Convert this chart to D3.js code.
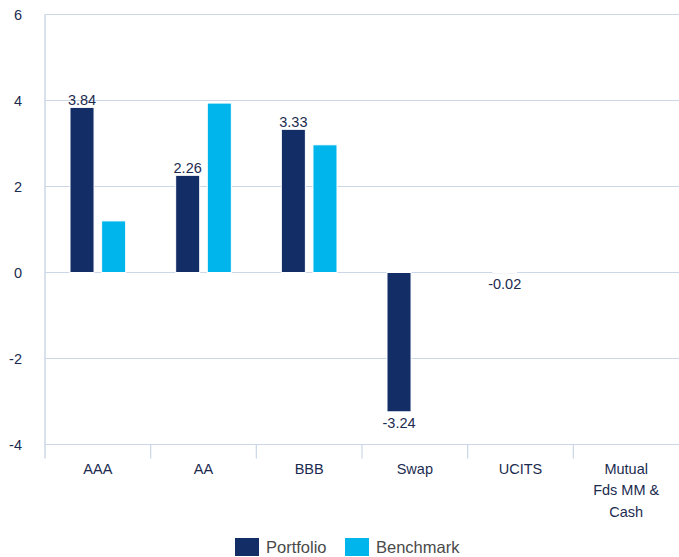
<!DOCTYPE html>
<html>
<head>
<meta charset="utf-8">
<script src="https://cdn.jsdelivr.net/npm/d3@7"></script>
<style>
  body { margin: 0; background: #fff; }
  text { font-family: "Liberation Sans", Arial, sans-serif; }
</style>
</head>
<body>
<div id="chart"></div>
<script>
const width = 679;
const height = 557;

// datos
const categorias = ["AAA", "AA", "BBB", "Swap", "UCITS", "Mutual\nFds MM &\nCash"];
const series = ["Portfolio", "Benchmark"];
const portfolio = [3.84, 2.26, 3.33, -3.24, -0.02, 0];
const benchmark = [1.2, 3.94, 2.97, 0, 0, 0];
const etiquetasPortfolio = ["3.84", "2.26", "3.33", "-3.24", "-0.02", null];
const ticksY = [-4, -2, 0, 2, 4, 6];

const colores = { Portfolio: "#132d67", Benchmark: "#00b5ec" };
const colorTexto = "#1b2b4f";
const colorGrid = "#cbd7e6";

const margin = { top: 14.5, right: 0, bottom: 112.5, left: 45 };
const innerW = width - margin.left - margin.right;
const innerH = height - margin.top - margin.bottom;

const svg = d3.select("#chart").append("svg")
  .attr("width", width)
  .attr("height", height);

const g = svg.append("g").attr("transform", `translate(${margin.left},${margin.top})`);

const y = d3.scaleLinear().domain([-4, 6]).range([innerH, 0]);
const x0 = d3.scaleBand().domain(categorias).range([0, innerW]);
const x1 = d3.scaleBand().domain(series).range([25, x0.bandwidth() - 25]).paddingInner(0.24);

// grid
g.selectAll(".grid").data(ticksY).join("line")
  .attr("x1", 0).attr("x2", innerW)
  .attr("y1", d => y(d)).attr("y2", d => y(d))
  .attr("stroke", colorGrid).attr("stroke-width", 1.2);

// eje izquierdo
g.append("line")
  .attr("x1", 0).attr("x2", 0)
  .attr("y1", 0).attr("y2", innerH + 14)
  .attr("stroke", colorGrid).attr("stroke-width", 1.5);

// separadores de categorías
g.selectAll(".sep").data(categorias.slice(1)).join("line")
  .attr("x1", d => x0(d)).attr("x2", d => x0(d))
  .attr("y1", innerH).attr("y2", innerH + 14)
  .attr("stroke", colorGrid).attr("stroke-width", 1.2);

// etiquetas eje y
g.selectAll(".ytick").data(ticksY).join("text")
  .attr("x", -23).attr("y", d => y(d))
  .attr("dy", "0.35em")
  .attr("text-anchor", "end")
  .attr("fill", colorTexto)
  .style("font-size", "14.5px")
  .text(d => d);

// barras
const datos = categorias.map((c, i) => ({
  cat: c,
  valores: [
    { serie: "Portfolio", valor: portfolio[i], etiqueta: etiquetasPortfolio[i] },
    { serie: "Benchmark", valor: benchmark[i], etiqueta: null }
  ]
}));

const grupos = g.selectAll(".grupo").data(datos).join("g")
  .attr("transform", d => `translate(${x0(d.cat)},0)`);

grupos.selectAll("rect").data(d => d.valores.filter(v => v.valor !== 0)).join("rect")
  .attr("x", d => x1(d.serie))
  .attr("width", x1.bandwidth())
  .attr("y", d => y(Math.max(0, d.valor)))
  .attr("height", d => Math.abs(y(d.valor) - y(0)))
  .attr("fill", d => colores[d.serie])
  .attr("stroke", "#fff").attr("stroke-width", 1);

grupos.selectAll(".valor").data(d => d.valores.filter(v => v.etiqueta)).join("text")
  .attr("x", d => x1(d.serie) + x1.bandwidth() / 2)
  .attr("y", d => d.valor >= 0 ? y(d.valor) - 2 : y(d.valor) + 16)
  .attr("text-anchor", "middle")
  .attr("fill", colorTexto)
  .style("font-size", "14.5px")
  .text(d => d.etiqueta);

// etiquetas eje x
const xLabels = g.selectAll(".xlab").data(categorias).join("text")
  .attr("x", d => x0(d) + x0.bandwidth() / 2)
  .attr("y", innerH + 29)
  .attr("text-anchor", "middle")
  .attr("fill", colorTexto)
  .style("font-size", "14.5px");

xLabels.selectAll("tspan").data(d => d.split("\n")).join("tspan")
  .attr("x", function() { return d3.select(this.parentNode).attr("x"); })
  .attr("dy", (d, i) => i === 0 ? 0 : 21.5)
  .text(d => d);

// leyenda
const leyenda = svg.append("g").attr("transform", "translate(235,538)");
const posLeyenda = [0, 110];
series.forEach((s, i) => {
  const item = leyenda.append("g").attr("transform", `translate(${posLeyenda[i]},0)`);
  item.append("rect").attr("width", 24).attr("height", 18).attr("fill", colores[s]);
  item.append("text").attr("x", 31).attr("y", 9).attr("dy", "0.36em")
    .attr("fill", "#4a4a4a")
    .style("font-size", "16.5px")
    .text(s);
});
</script>
</body>
</html>
